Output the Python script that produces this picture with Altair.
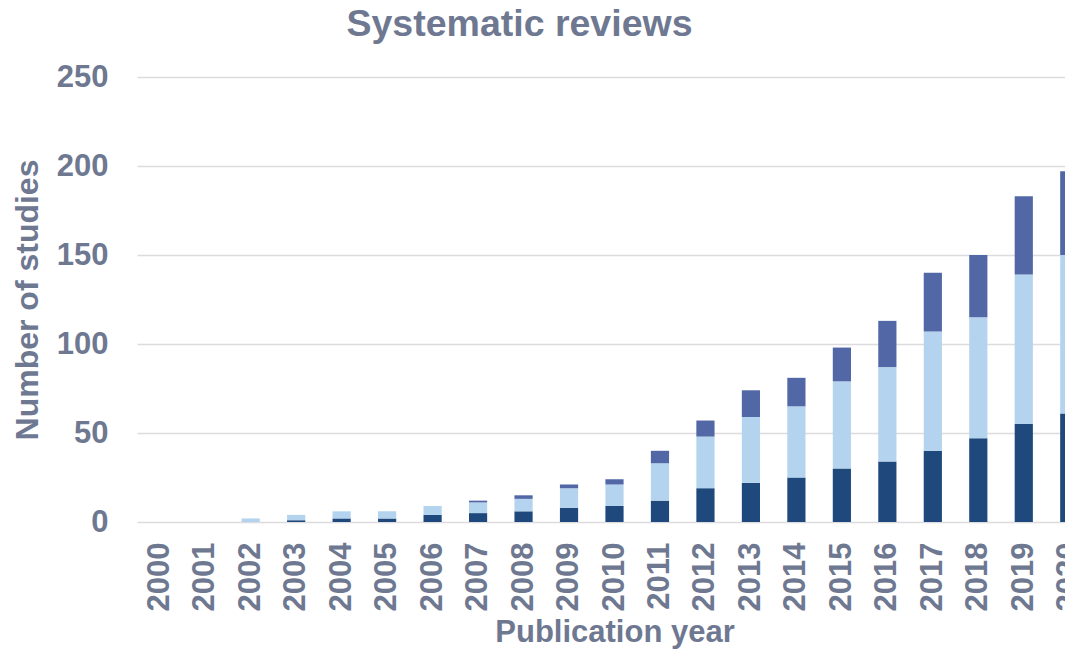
import altair as alt
import pandas as pd

years = [str(y) for y in range(2000, 2021)]
series_names = ["Series 1", "Series 2", "Series 3"]
dark_vals = [0, 0, 0, 1, 2, 2, 4, 5, 6, 8, 9, 12, 19, 22, 25, 30, 34, 40, 47, 55, 61]
light_vals = [0, 0, 2, 3, 4, 4, 5, 6, 7, 11, 12, 21, 29, 37, 40, 49, 53, 67, 68, 84, 89]
mid_vals = [0, 0, 0, 0, 0, 0, 0, 1, 2, 2, 3, 7, 9, 15, 16, 19, 26, 33, 35, 44, 47]
colors = ["#1F497D", "#B4D3EE", "#5167A6"]

rows = []
for i, y in enumerate(years):
    for k, vals in enumerate([dark_vals, light_vals, mid_vals]):
        rows.append({"year": y, "series": series_names[k], "order": k, "value": vals[i]})
df = pd.DataFrame(rows)

text_color = "#6E7891"
font = "Liberation Sans"

chart = alt.Chart(df).mark_bar().encode(
    x=alt.X("year:N", sort=years,
            scale=alt.Scale(paddingInner=0.6, paddingOuter=0.3),
            axis=alt.Axis(title="Publication year", labelAngle=270, labelAlign="right",
                          labelBaseline="middle", labelPadding=20, ticks=False, domain=False,
                          labelFontSize=31, labelFont=font, labelFontWeight="bold",
                          labelColor=text_color, titleFontSize=31, titleFont=font,
                          titleFontWeight="bold", titleColor=text_color, titlePadding=7,
                          grid=False)),
    y=alt.Y("value:Q", stack="zero",
            scale=alt.Scale(domain=[0, 250]),
            axis=alt.Axis(title="Number of studies", values=[0, 50, 100, 150, 200, 250],
                          ticks=False, domain=False, labelPadding=29,
                          labelFontSize=31, labelFont=font, labelFontWeight="bold",
                          labelColor=text_color, titleFontSize=32, titleFont=font,
                          titleFontWeight="bold", titleColor=text_color, titlePadding=12,
                          grid=True, gridColor="#DCDCE0", gridWidth=1.5)),
    color=alt.Color("series:N", scale=alt.Scale(domain=series_names, range=colors), legend=None),
    order=alt.Order("order:Q", sort="ascending"),
).properties(
    width=955,
    height=445,
    title=alt.TitleParams("Systematic reviews", fontSize=37.5, font=font, fontWeight="bold",
                          color=text_color, anchor="middle", dx=-95, frame="group",
                          baseline="alphabetic", offset=-12),
    autosize=alt.AutoSizeParams(type="none"),
    padding={"left": 129, "top": 69, "right": -27, "bottom": 129},
).configure_view(stroke=None)

chart.save("out.html", embed_options={"renderer": "svg", "actions": False})
